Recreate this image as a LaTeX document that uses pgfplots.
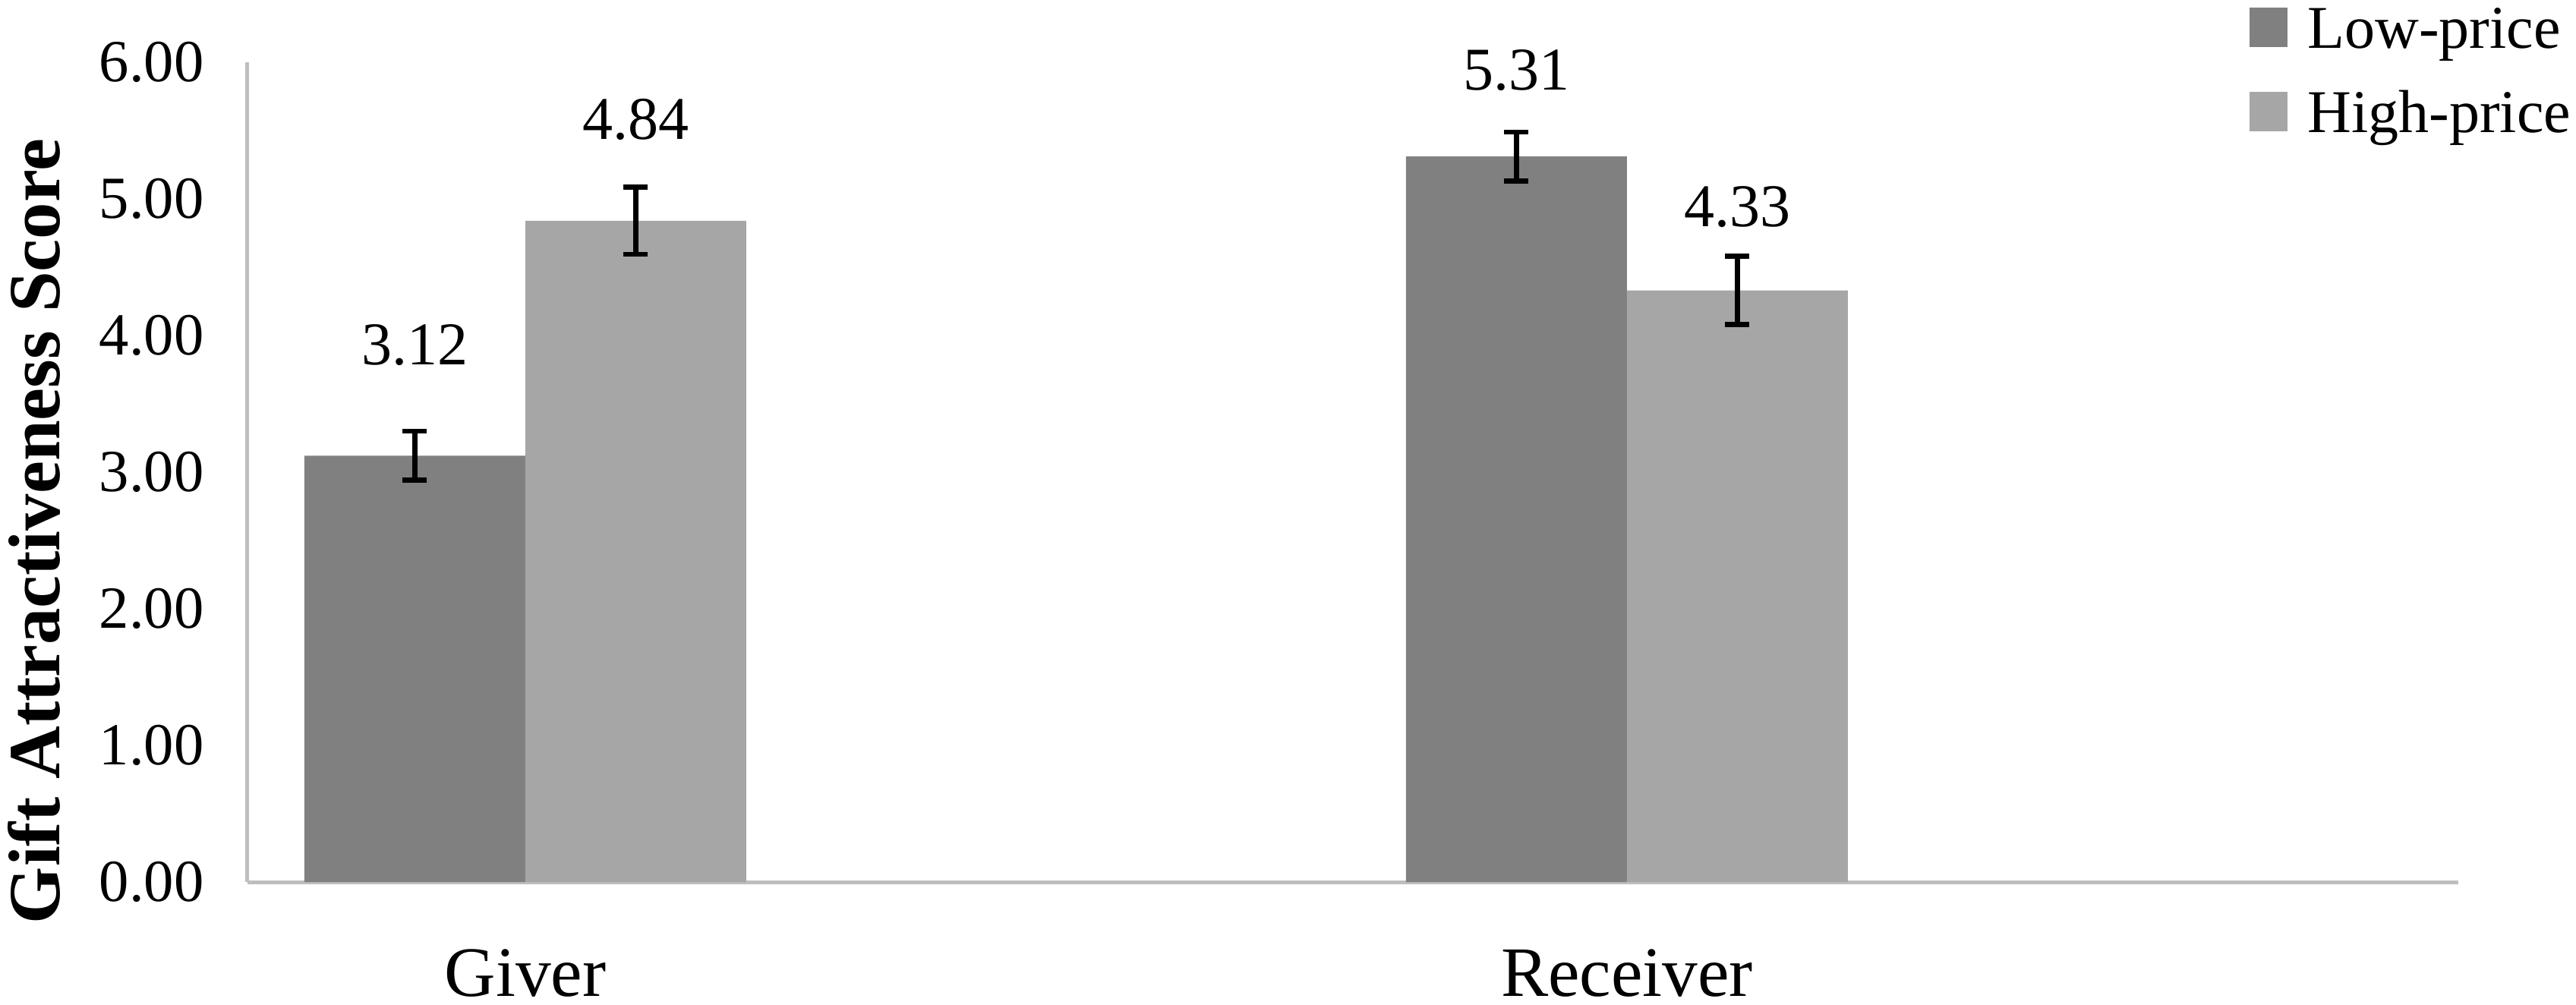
\documentclass[border=0pt]{standalone}
\usepackage{fontspec}
\setmainfont{Liberation Serif}
\usepackage{pgfplots}
\pgfplotsset{compat=1.18}
\definecolor{lowgray}{RGB}{128,128,128}
\definecolor{highgray}{RGB}{166,166,166}
\definecolor{axisgray}{RGB}{190,190,190}
\begin{document}
\begin{tikzpicture}
\useasboundingbox (-48.9pt,-24.15pt) rectangle (460.05pt,174.3pt);
\begin{axis}[
  scale only axis, width=436.8pt, height=162pt,
  xmin=-0.2522, xmax=1.7547, ymin=0, ymax=6,
  ybar=0pt, bar width=43.65pt,
  axis x line*=bottom, axis y line*=left,
  axis line style={draw=axisgray, line width=0.75pt},
  major tick length=0pt,
  xtick={0,1}, xticklabels={Giver,Receiver},
  ytick={0,1,2,3,4,5,6},
  /pgf/number format/.cd, fixed, fixed zerofill, precision=2, assume math mode=true, /pgfplots/.cd,
  yticklabel style={font=\fontsize{11.8}{14}\selectfont, anchor=east, inner sep=0pt, xshift=-8.4pt},
  xticklabel style={font=\fontsize{14}{16}\selectfont, anchor=base, inner sep=0pt, yshift=-22.6pt},
  ylabel={Gift Attractiveness Score},
  ylabel style={font=\fontsize{14.5}{16}\selectfont\bfseries, at={(axis description cs:-0.08516,0.42778)}, anchor=base, inner sep=0pt},
  error bars/y dir=both, error bars/y explicit,
  error bars/error bar style={line width=1pt, black},
  error bars/error mark options={rotate=90, mark size=2.4pt, line width=1pt, black},
  legend style={at={(axis description cs:0.90556,1.0700)}, anchor=north west, draw=none, fill=none,
    inner sep=0pt, outer sep=0pt, row sep=5.65pt, column sep=4pt,
    font=\fontsize{12}{14}\selectfont,
    nodes={inner sep=0pt, text height=8.5pt, text depth=2.5pt}},
  legend cell align=left,
  clip=false,
]
\addplot[fill=lowgray, draw=none, legend image code/.code={\fill[lowgray] (0pt,-2.85pt) rectangle (7.5pt,4.95pt);}]
  coordinates {(0,3.12) +- (0,0.18) (1,5.31) +- (0,0.18)};
\addlegendentry{Low-price}
\addplot[fill=highgray, draw=none, legend image code/.code={\fill[highgray] (0pt,-2.85pt) rectangle (7.5pt,4.95pt);}]
  coordinates {(0,4.84) +- (0,0.245) (1,4.33) +- (0,0.25)};
\addlegendentry{High-price}
\node[font=\fontsize{12}{14}\selectfont, inner sep=0pt] at (axis cs:-0.1,3.93) {3.12};
\node[font=\fontsize{12}{14}\selectfont, inner sep=0pt] at (axis cs:0.1,5.58) {4.84};
\node[font=\fontsize{12}{14}\selectfont, inner sep=0pt] at (axis cs:0.9,5.94) {5.31};
\node[font=\fontsize{12}{14}\selectfont, inner sep=0pt] at (axis cs:1.1,4.94) {4.33};
\end{axis}
\end{tikzpicture}
\end{document}
